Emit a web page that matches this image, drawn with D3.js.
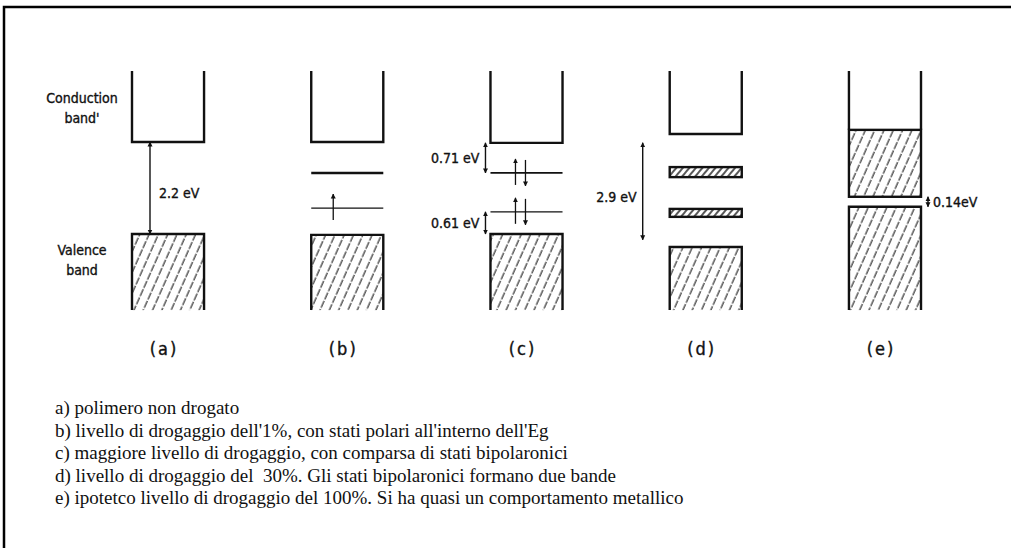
<!DOCTYPE html>
<html>
<head>
<meta charset="utf-8">
<script src="https://cdn.jsdelivr.net/npm/d3@7"></script>
<style>
	body { margin: 0; background: #fff; }
	svg { display: block; }
	.diag { font-family: "DejaVu Sans Condensed", "DejaVu Sans", sans-serif; font-stretch: condensed; fill: #111; stroke: #111; stroke-width: 0.35px; }
	.note { font-family: "Liberation Serif", "DejaVu Serif", serif; fill: #111; white-space: pre; }
</style>
</head>
<body>
<svg id="chart" width="1011" height="548"></svg>
<script>
// panels of the band diagram
var panels = ['(a)', '(b)', '(c)', '(d)', '(e)'];

// band edges in eV (schematic, 0 = valence top of the undoped polymer)
var conductionEdge = [2.2, 2.2, 2.18, 2.39, 0.89];
var conductionFill = [null, null, null, null, 2.49];
var valenceEdge = [0, -0.02, 0, -0.31, 0.65];

// single gap levels (polarons / bipolarons)
var levelPanels = ['(b)', '(b)', '(c)', '(c)'];
var levelEnergy = [1.46, 0.62, 1.46, 0.53];

// narrow bipolaron bands in (d)
var bandPanels = ['(d)', '(d)'];
var bandTop = [1.60, 0.60];
var bandBottom = [1.36, 0.41];

// spin arrows on the gap levels
var spinPanels = ['(b)', '(c)', '(c)', '(c)', '(c)'];
var spinEnergy = [0.62, 1.46, 1.46, 0.53, 0.53];
var spinDir = ['up', 'up', 'down', 'up', 'down'];

// energy separations with their labels
var gapPanels = ['(a)', '(c)', '(c)', '(d)', '(e)'];
var gapFrom = [2.2, 2.18, 0.53, 2.18, 0.89];
var gapTo = [0, 1.46, 0, -0.14, 0.65];
var gapLabels = ['2.2 eV', '0.71 eV', '0.61 eV', '2.9 eV', '0.14eV'];

var notes = [
	"a) polimero non drogato",
	"b) livello di drogaggio dell'1%, con stati polari all'interno dell'Eg",
	"c) maggiore livello di drogaggio, con comparsa di stati bipolaronici",
	"d) livello di drogaggio del  30%. Gli stati bipolaronici formano due bande",
	"e) ipotetco livello di drogaggio del 100%. Si ha quasi un comportamento metallico"
];

var svg = d3.select('#chart');

var x = d3.scaleBand()
	.domain(panels)
	.range([132, 921])
	.paddingInner(0.598)
	.paddingOuter(0);

var y = d3.scaleLinear()
	.domain([0, 2.2])
	.range([234, 142]);

var topE = 3.9;
var baseE = -1.82;
var bw = x.bandwidth();

// hatching
var defs = svg.append('defs');
defs.append('pattern')
	.attr('id', 'hatch')
	.attr('patternUnits', 'userSpaceOnUse')
	.attr('width', 8.5)
	.attr('height', 9)
	.attr('patternTransform', 'rotate(24)')
	.append('line')
	.attr('x1', 2).attr('y1', 0)
	.attr('x2', 2).attr('y2', 9)
	.attr('stroke', '#1a1a1a')
	.attr('stroke-width', 1.1)
	.attr('stroke-dasharray', '6.5 1.5');

defs.append('pattern')
	.attr('id', 'hatchDense')
	.attr('patternUnits', 'userSpaceOnUse')
	.attr('width', 5)
	.attr('height', 5)
	.attr('patternTransform', 'rotate(40)')
	.append('line')
	.attr('x1', 1).attr('y1', 0)
	.attr('x2', 1).attr('y2', 5)
	.attr('stroke', '#111')
	.attr('stroke-width', 1.4);

defs.append('marker')
	.attr('id', 'head')
	.attr('viewBox', '0 0 10 10')
	.attr('refX', 9).attr('refY', 5)
	.attr('markerWidth', 5).attr('markerHeight', 6)
	.attr('markerUnits', 'userSpaceOnUse')
	.attr('orient', 'auto-start-reverse')
	.append('path')
	.attr('d', 'M0,0 L10,5 L0,10 z')
	.attr('fill', '#111');

// frame
svg.append('path')
	.attr('d', 'M4,548 V7 H1011')
	.attr('fill', 'none')
	.attr('stroke', '#000')
	.attr('stroke-width', 2.5);

// conduction band walls (open cup)
var cup = svg.append('g').attr('class', 'cup');
panels.forEach(function(p, i){
	var l = x(p), r = x(p) + bw;
	var bottom = conductionFill[i] !== null ? conductionFill[i] : conductionEdge[i];
	cup.append('path')
		.attr('d', 'M' + l + ',' + y(topE) + ' V' + y(bottom) + (conductionFill[i] === null ? ' H' + r : ' M' + r + ',' + y(bottom)) + ' V' + y(topE))
		.attr('fill', 'none')
		.attr('stroke', '#111')
		.attr('stroke-width', 2.4);
});

// filled part of the conduction band in (e)
panels.forEach(function(p, i){
	if (conductionFill[i] === null) return;
	svg.append('rect')
		.attr('x', x(p)).attr('y', y(conductionFill[i]))
		.attr('width', bw).attr('height', y(conductionEdge[i]) - y(conductionFill[i]))
		.attr('fill', 'url(#hatch)')
		.attr('stroke', '#111')
		.attr('stroke-width', 2.4);
});

// valence bands (open at the bottom)
var vb = svg.selectAll('g.valence')
	.data(panels)
	.enter()
	.append('g')
	.classed('valence', true);

vb.append('rect')
	.attr('x', function(d){return x(d);})
	.attr('y', function(d, i){return y(valenceEdge[i]);})
	.attr('width', bw)
	.attr('height', function(d, i){return y(baseE) - y(valenceEdge[i]);})
	.attr('fill', 'url(#hatch)');

vb.append('path')
	.attr('d', function(d, i){
		return 'M' + x(d) + ',' + y(baseE) + ' V' + y(valenceEdge[i]) + ' H' + (x(d) + bw) + ' V' + y(baseE);
	})
	.attr('fill', 'none')
	.attr('stroke', '#111')
	.attr('stroke-width', 2.4);

// gap levels
svg.selectAll('line.level')
	.data(levelEnergy)
	.enter()
	.append('line')
	.attr('class', 'level')
	.attr('x1', function(d, i){return x(levelPanels[i]);})
	.attr('x2', function(d, i){return x(levelPanels[i]) + bw;})
	.attr('y1', function(d){return y(d);})
	.attr('y2', function(d){return y(d);})
	.attr('stroke', '#111')
	.attr('stroke-width', function(d, i){return i === 0 ? 2.6 : (i === 2 ? 1.8 : 1.2);});

// narrow bands
svg.selectAll('rect.band')
	.data(bandTop)
	.enter()
	.append('rect')
	.attr('class', 'band')
	.attr('x', function(d, i){return x(bandPanels[i]);})
	.attr('y', function(d){return y(d);})
	.attr('width', bw)
	.attr('height', function(d, i){return y(bandBottom[i]) - y(d);})
	.attr('fill', 'url(#hatchDense)')
	.attr('stroke', '#111')
	.attr('stroke-width', 2.4);

// spin arrows
var spinX = function(i){
	if (spinDir[i] === 'down') return x(spinPanels[i]) + 35;
	return x(spinPanels[i]) + (spinPanels[i] === '(b)' ? 22 : 25);
};

svg.selectAll('line.spin')
	.data(spinEnergy)
	.enter()
	.append('line')
	.attr('class', 'spin')
	.attr('x1', function(d, i){return spinX(i);})
	.attr('x2', function(d, i){return spinX(i);})
	.attr('y1', function(d, i){return spinDir[i] === 'up' ? y(d) + 12 : y(d) - 13;})
	.attr('y2', function(d, i){return spinDir[i] === 'up' ? y(d) - 14 : y(d) + 13;})
	.attr('stroke', '#111')
	.attr('stroke-width', 1.3)
	.attr('marker-end', 'url(#head)');

// gap arrows
var gapX = function(i){
	var p = gapPanels[i];
	if (p === '(a)') return x(p) + 18;
	if (p === '(c)') return x(p) - 5;
	if (p === '(d)') return x(p) - 27;
	return x(p) + bw + 7;
};

var gaps = svg.selectAll('g.gap')
	.data(gapLabels)
	.enter()
	.append('g')
	.classed('gap', true);

gaps.append('line')
	.attr('x1', function(d, i){return gapX(i);})
	.attr('x2', function(d, i){return gapX(i);})
	.attr('y1', function(d, i){return y(gapFrom[i]);})
	.attr('y2', function(d, i){return y(gapTo[i]);})
	.attr('stroke', '#111')
	.attr('stroke-width', 1.4)
	.attr('marker-start', 'url(#head)')
	.attr('marker-end', 'url(#head)');

gaps.append('text')
	.attr('class', 'diag')
	.attr('x', function(d, i){
		var p = gapPanels[i];
		if (p === '(a)') return gapX(i) + 9;
		if (p === '(e)') return gapX(i) + 5;
		return gapX(i) - 6;
	})
	.attr('y', function(d, i){
		var mid = (y(gapFrom[i]) + y(gapTo[i])) / 2;
		if (gapPanels[i] === '(a)') return mid + 10;
		if (gapPanels[i] === '(d)') return mid + 11;
		return mid + 5;
	})
	.attr('text-anchor', function(d, i){
		var p = gapPanels[i];
		return (p === '(a)' || p === '(e)') ? 'start' : 'end';
	})
	.style('font-size', '14px')
	.text(function(d){return d;});

// band names
var names = [['Conduction', 98], ["band'", 118], ['Valence', 250], ['band', 270]];
svg.selectAll('text.bandname')
	.data(names)
	.enter()
	.append('text')
	.attr('class', 'diag bandname')
	.attr('x', 82)
	.attr('y', function(d){return d[1] + 5;})
	.attr('text-anchor', 'middle')
	.style('font-size', '14px')
	.text(function(d){return d[0];});

// panel labels
svg.selectAll('text.plabel')
	.data(panels)
	.enter()
	.append('text')
	.attr('class', 'diag plabel')
	.attr('x', function(d){return x(d) + bw / 2 - 4;})
	.attr('y', 355)
	.attr('text-anchor', 'middle')
	.style('font-size', '18px')
	.style('letter-spacing', '2px')
	.text(function(d){return d;});

// captions
svg.selectAll('text.note')
	.data(notes)
	.enter()
	.append('text')
	.attr('class', 'note')
	.attr('x', 55)
	.attr('y', function(d, i){return 414 + i * 22.6;})
	.style('font-size', '19px')
	.text(function(d){return d;});
</script>
</body>
</html>
